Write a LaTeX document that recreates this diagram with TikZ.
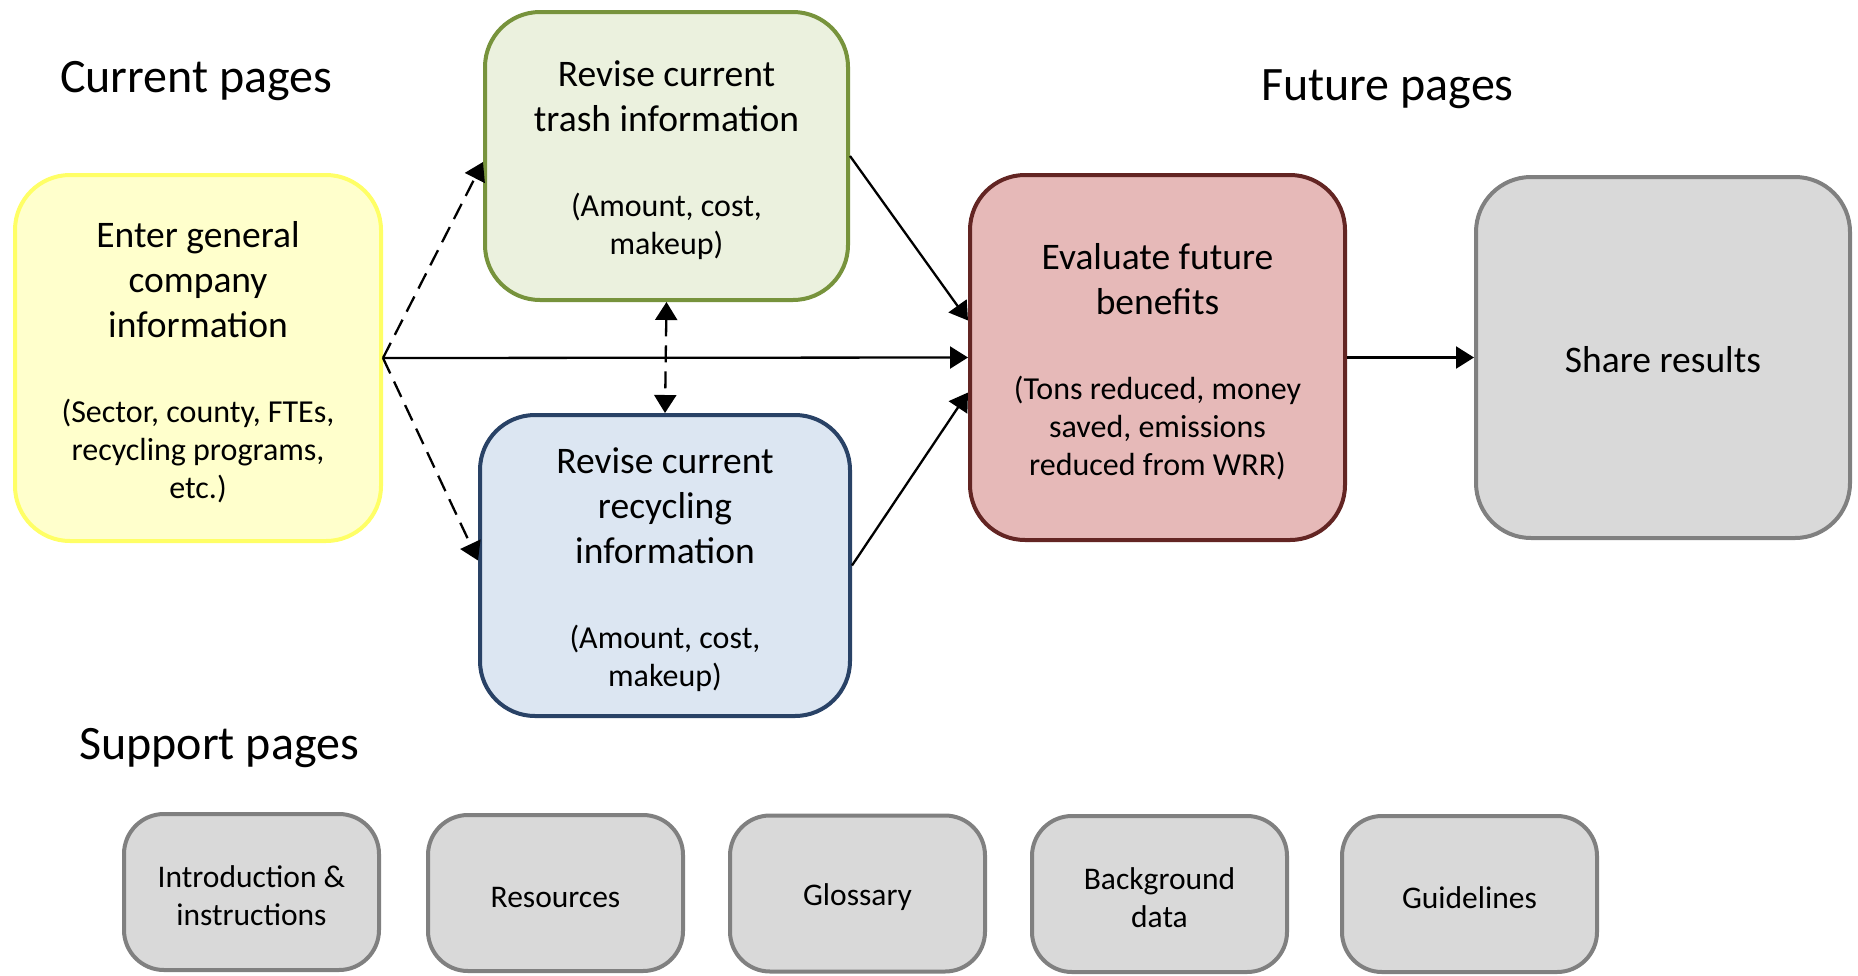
\documentclass[tikz,border=0pt]{standalone}
\usepackage{fontspec}
\setmainfont{Carlito}
\usetikzlibrary{arrows.meta}
\definecolor{yfill}{HTML}{FFFFCC}
\definecolor{ydraw}{HTML}{FFFF66}
\definecolor{gfill}{HTML}{EBF1DE}
\definecolor{gdraw}{HTML}{77933C}
\definecolor{bfill}{HTML}{DCE6F2}
\definecolor{bdraw}{HTML}{294266}
\definecolor{rfill}{HTML}{E6B9B8}
\definecolor{rdraw}{HTML}{632523}
\definecolor{kfill}{HTML}{D9D9D9}
\definecolor{kdraw}{HTML}{808080}
\newcommand\myMain{\fontsize{37.5}{45}\selectfont}
\newcommand\mySub{\fontsize{32}{38}\selectfont}
\newcommand\myTitle{\fontsize{48}{56}\selectfont}
\newcommand\mySmall{\fontsize{31.5}{38}\selectfont}
\newcommand\topst{\rule{0pt}{34pt}}
\newcommand\smallst{\rule{0pt}{30pt}}
\begin{document}
\begin{tikzpicture}[x=1pt,y=-1pt,
  box/.style={rectangle, rounded corners=55pt, line width=4pt, align=center,
    font=\myMain, inner sep=0pt},
  sbox/.style={rectangle, rounded corners=40pt, line width=4pt, align=center,
    font=\mySmall, inner sep=0pt, fill=kfill, draw=kdraw,
    minimum width=255pt, minimum height=156pt},
  titlelbl/.style={font=\myTitle, inner sep=0pt, anchor=base west},
  conn/.style={line width=2.3pt, -{Triangle[length=18pt,width=22pt]}},
  dconn/.style={conn, dash pattern=on 17pt off 9pt},
  ddconn/.style={line width=2.3pt, dash pattern=on 17pt off 9pt,
    {Triangle[length=18pt,width=22pt]}-{Triangle[length=18pt,width=22pt]}}
]
\useasboundingbox (0,0) rectangle (1858,975);
\fill[white] (0,0) rectangle (1858,975);

% titles
\node[titlelbl] (tcur) at (60,92.5) {Current pages};
\node[titlelbl] (tfut) at (1261,100.5) {Future pages};
\node[titlelbl] (tsup) at (79,759.5) {Support pages};

% main boxes
\node[box, fill=yfill, draw=ydraw, minimum width=366pt, minimum height=366pt] (gen) at (198,358)
  {\topst Enter general\\company\\information\\[40pt]{\mySub (Sector, county, FTEs,}\\[-7pt]{\mySub recycling programs,}\\[-7pt]{\mySub etc.)}};
\node[box, fill=gfill, draw=gdraw, minimum width=363pt, minimum height=288pt] (trash) at (666.5,156)
  {\topst Revise current\\trash information\\[40pt]{\mySub (Amount, cost,}\\[-7pt]{\mySub makeup)}};
\node[box, fill=bfill, draw=bdraw, minimum width=370pt, minimum height=301pt] (recyc) at (665,565.5)
  {\topst Revise current\\recycling\\information\\[40pt]{\mySub (Amount, cost,}\\[-7pt]{\mySub makeup)}};
\node[box, fill=rfill, draw=rdraw, minimum width=375pt, minimum height=365pt] (eval) at (1157.5,357.5)
  {\topst Evaluate future\\benefits\\[40pt]{\mySub (Tons reduced, money}\\[-7pt]{\mySub saved, emissions}\\[-7pt]{\mySub reduced from WRR)}};
\node[box, fill=kfill, draw=kdraw, minimum width=374pt, minimum height=361pt] (share) at (1663,357.5)
  {\rule{0pt}{30pt}Share results};

% support boxes
\node[sbox] (intro) at (251.5,892) {\smallst Introduction \&\\instructions};
\node[sbox] (res) at (555.5,893) {\smallst Resources};
\node[sbox] (glos) at (857.5,893.5) {\smallst Glossary};
\node[sbox] (bg) at (1159.5,894) {\smallst Background\\data};
\node[sbox] (guide) at (1469.5,894) {\smallst Guidelines};

% connectors
\draw[dconn] (gen.east) -- ([yshift=-6pt]trash.west);
\draw[dconn] (gen.east) -- ([yshift=5pt]recyc.west);
\draw[conn] (gen.east) -- (eval.west);
\draw[conn] (trash.east) -- ([yshift=37pt]eval.west);
\draw[conn] (recyc.east) -- ([yshift=-35pt]eval.west);
\draw[conn] (eval.east) -- (share.west);
\draw[ddconn] (trash.south) -- (recyc.north);
\end{tikzpicture}
\end{document}
